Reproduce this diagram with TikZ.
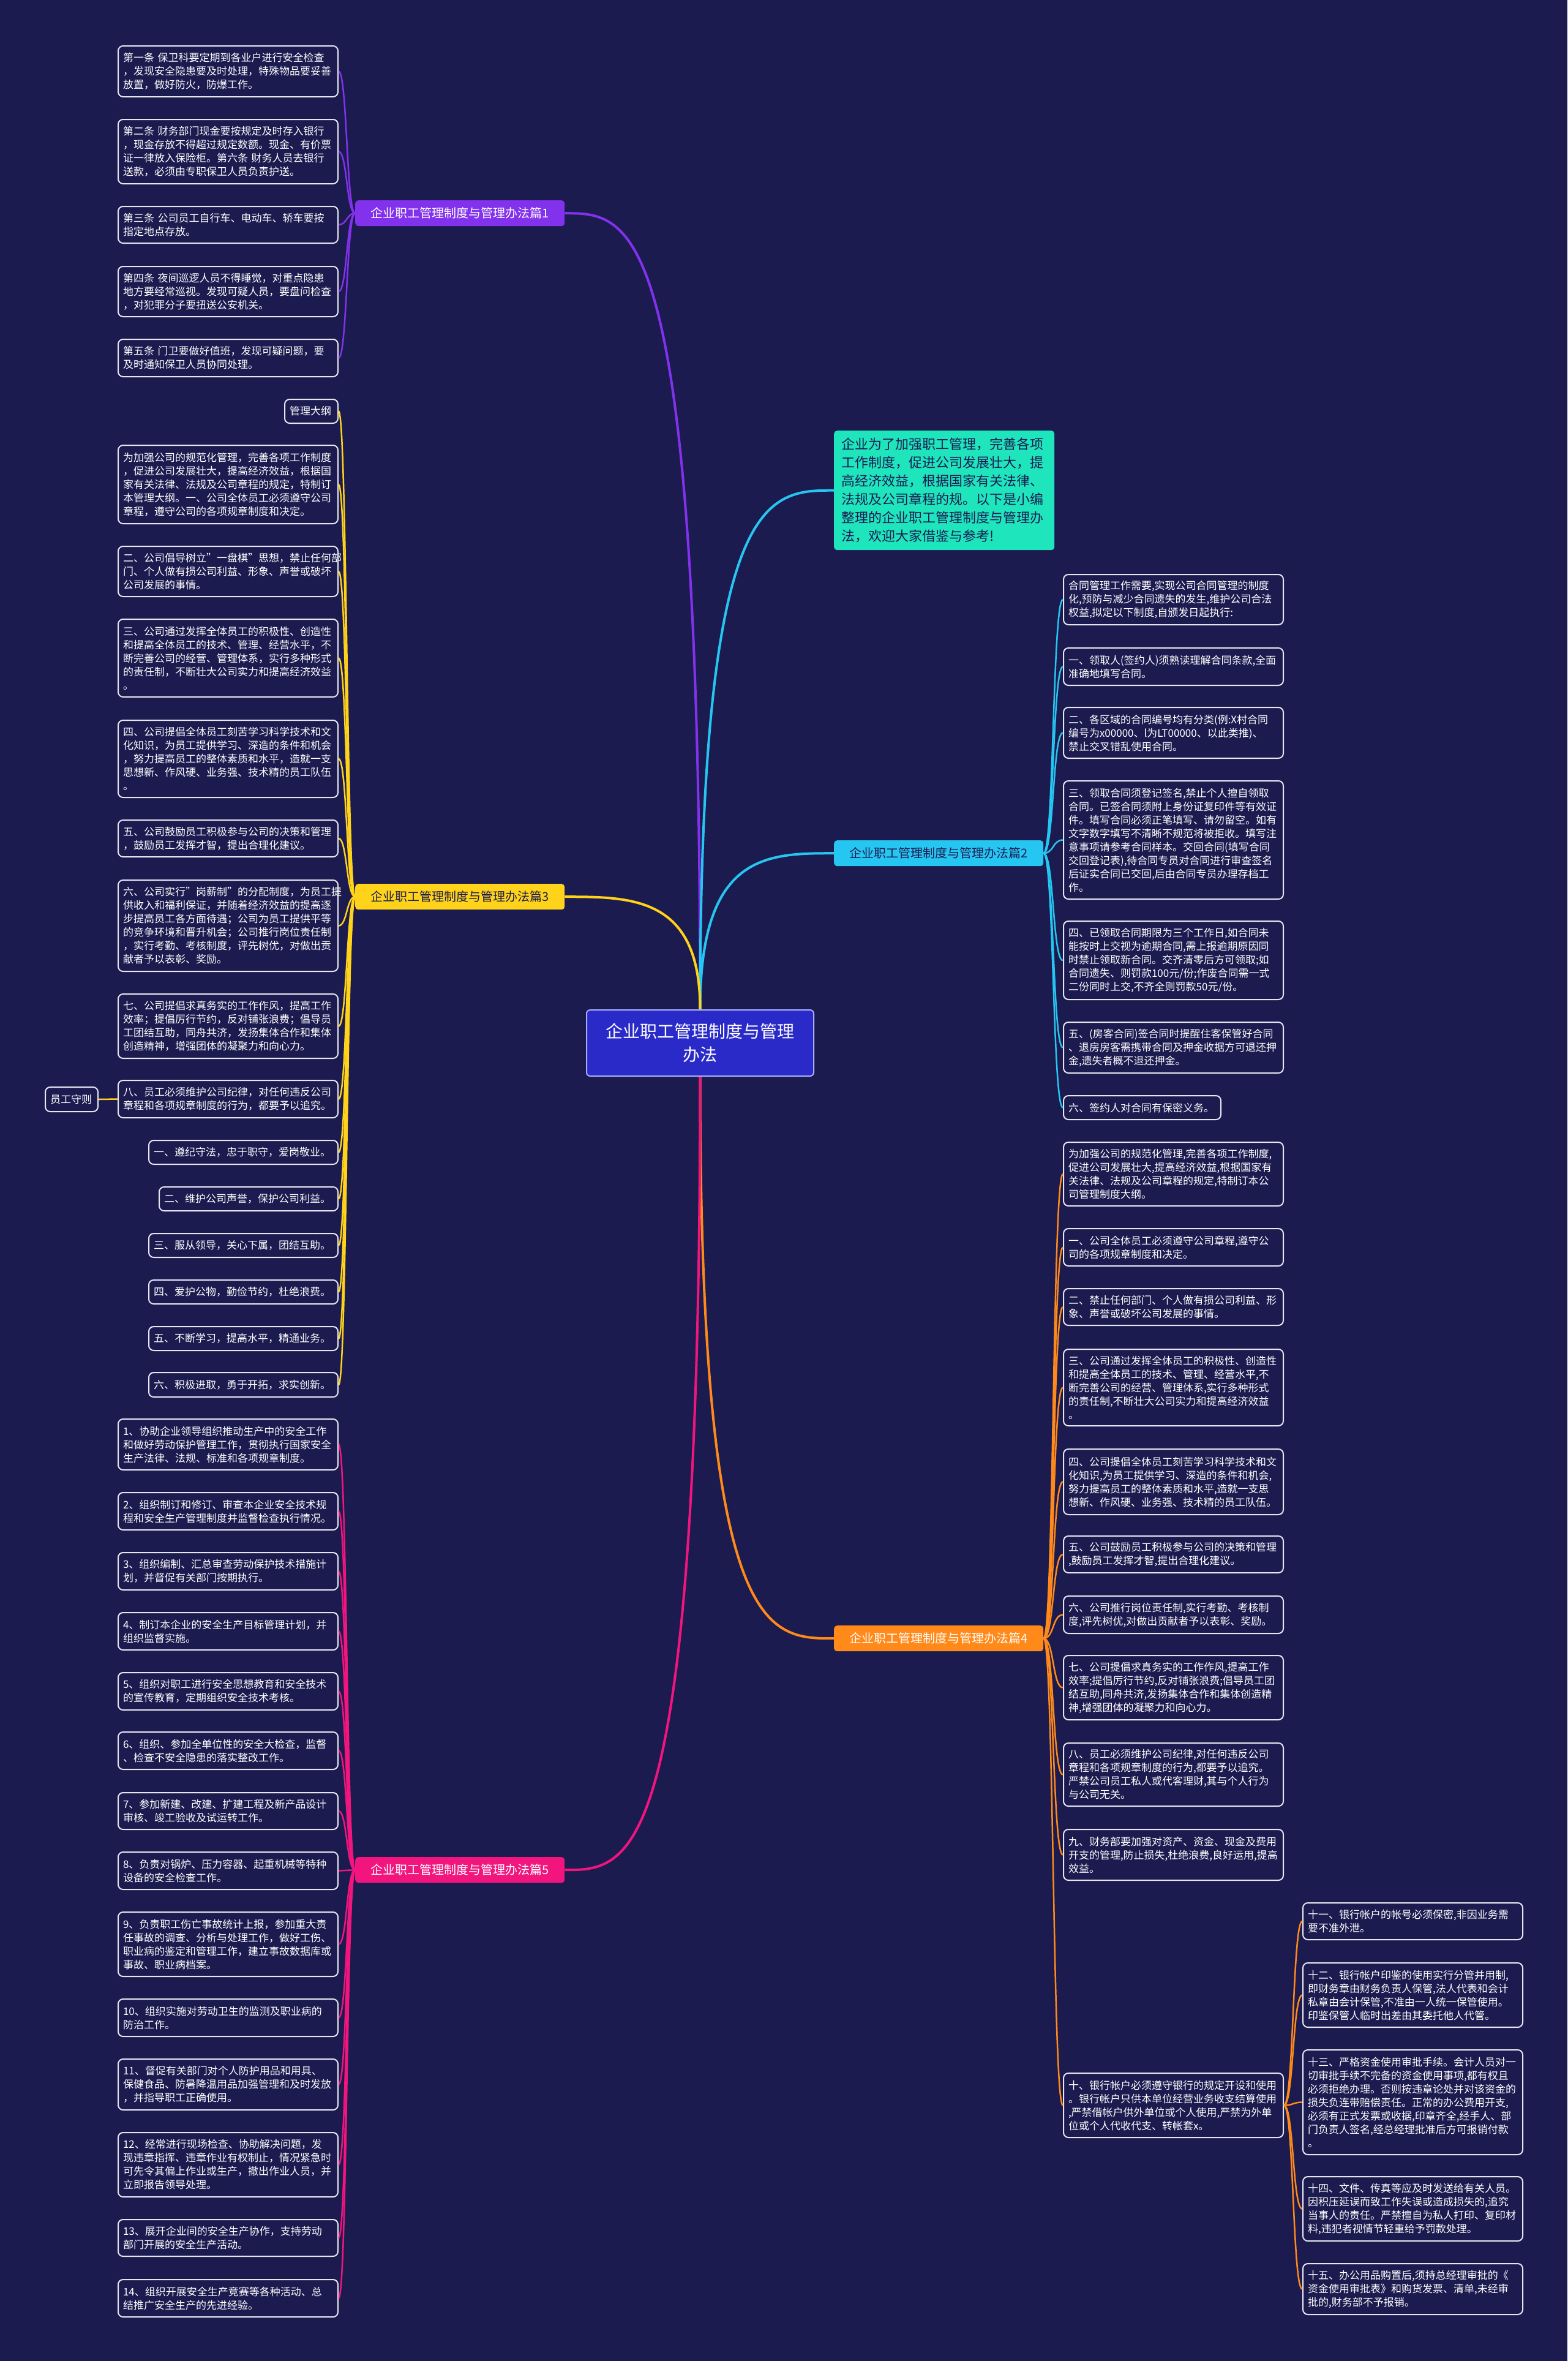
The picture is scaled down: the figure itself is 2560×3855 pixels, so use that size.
\documentclass[tikz,border=0pt]{standalone}
\usepackage{fontspec}
\setmainfont{Noto Sans CJK SC}
\usetikzlibrary{calc}
\definecolor{bg}{HTML}{1C1B50}
\definecolor{boxline}{HTML}{E6E6F0}
\definecolor{cpurple}{HTML}{8232EC}
\definecolor{ccyan}{HTML}{26C6F2}
\definecolor{cteal}{HTML}{1FE5BD}
\definecolor{cyellow}{HTML}{FFD31A}
\definecolor{corange}{HTML}{FF8A1A}
\definecolor{cpink}{HTML}{F2157E}
\definecolor{cblue}{HTML}{2A2AC8}
\definecolor{cborder}{HTML}{A9AEFF}
\tikzset{
  leaf/.style={draw=boxline, line width=2pt, rounded corners=8pt, fill=bg, text=white,
    align=left, text width=343pt, inner xsep=8pt, inner ysep=0pt, anchor=north west,
    font=\fontsize{17}{22}\selectfont},
  lbl/.style={rounded corners=5pt, minimum width=342pt, minimum height=42pt, inner sep=0pt,
    anchor=north west, font=\fontsize{20}{24}\selectfont},
  mainline/.style={line width=4pt},
  subline/.style={line width=2.5pt},
}
\newcommand\leafbox[6][]{\node[leaf,#1,minimum height={#5-#4}] (#2) at (#3,#4) {#6};}
\begin{document}
\begin{tikzpicture}[x=1pt,y=-1pt]
\fill[bg] (0,0) rectangle (2560,3855);
\useasboundingbox (0,0) rectangle (2560,3855);

% ---------- centre and first level ----------
\node[draw=cborder, line width=2pt, fill=cblue, rounded corners=6pt, text=white, align=center,
  anchor=north west, minimum width=371pt, minimum height=108pt, inner sep=0pt,
  font=\fontsize{28}{38}\selectfont] (C) at (957,1648) {企业职工管理制度与管理\\办法};

\node[fill=cteal, rounded corners=5pt, text=bg, align=left, anchor=north west,
  text width=336pt, inner xsep=12pt, inner ysep=0pt, minimum height=195pt,
  font=\fontsize{22}{30}\selectfont] (I) at (1362,703)
  {企业为了加强职工管理，完善各项\\工作制度，促进公司发展壮大，提\\高经济效益，根据国家有关法律、\\法规及公司章程的规。以下是小编\\整理的企业职工管理制度与管理办\\法，欢迎大家借鉴与参考!};

\node[lbl, fill=cpurple, text=white] (L1) at (580,327) {企业职工管理制度与管理办法篇1};
\node[lbl, fill=ccyan, text=bg] (L2) at (1362,1372) {企业职工管理制度与管理办法篇2};
\node[lbl, fill=cyellow, text=bg] (L3) at (580,1443) {企业职工管理制度与管理办法篇3};
\node[lbl, fill=corange, text=white] (L4) at (1362,2654) {企业职工管理制度与管理办法篇4};
\node[lbl, fill=cpink, text=white] (L5) at (580,3032) {企业职工管理制度与管理办法篇5};

% ---------- branch 1 ----------
\leafbox{p1}{192}{74}{157}{第一条 保卫科要定期到各业户进行安全检查\\，发现安全隐患要及时处理，特殊物品要妥善\\放置，做好防火，防爆工作。}
\leafbox{p2}{192}{194}{299}{第二条 财务部门现金要按规定及时存入银行\\，现金存放不得超过规定数额。现金、有价票\\证一律放入保险柜。第六条 财务人员去银行\\送款，必须由专职保卫人员负责护送。}
\leafbox{p3}{192}{336}{396}{第三条 公司员工自行车、电动车、轿车要按\\指定地点存放。}
\leafbox{p4}{192}{434}{516}{第四条 夜间巡逻人员不得睡觉，对重点隐患\\地方要经常巡视。发现可疑人员，要盘问检查\\，对犯罪分子要扭送公安机关。}
\leafbox{p5}{192}{553}{614}{第五条 门卫要做好值班，发现可疑问题，要\\及时通知保卫人员协同处理。}

% ---------- branch 3 ----------
\leafbox[text width=71pt]{y1}{464}{651}{690}{管理大纲}
\leafbox{y2}{192}{726}{854}{为加强公司的规范化管理，完善各项工作制度\\，促进公司发展壮大，提高经济效益，根据国\\家有关法律、法规及公司章程的规定，特制订\\本管理大纲。一、公司全体员工必须遵守公司\\章程，遵守公司的各项规章制度和决定。}
\leafbox{y3}{192}{891}{973}{二、公司倡导树立"一盘棋"思想，禁止任何部\\门、个人做有损公司利益、形象、声誉或破坏\\公司发展的事情。}
\leafbox{y4}{192}{1010}{1137}{三、公司通过发挥全体员工的积极性、创造性\\和提高全体员工的技术、管理、经营水平，不\\断完善公司的经营、管理体系，实行多种形式\\的责任制，不断壮大公司实力和提高经济效益\\。}
\leafbox{y5}{192}{1175}{1301}{四、公司提倡全体员工刻苦学习科学技术和文\\化知识，为员工提供学习、深造的条件和机会\\，努力提高员工的整体素质和水平，造就一支\\思想新、作风硬、业务强、技术精的员工队伍\\。}
\leafbox{y6}{192}{1338}{1398}{五、公司鼓励员工积极参与公司的决策和管理\\，鼓励员工发挥才智，提出合理化建议。}
\leafbox{y7}{192}{1436}{1585}{六、公司实行"岗薪制"的分配制度，为员工提\\供收入和福利保证，并随着经济效益的提高逐\\步提高员工各方面待遇；公司为员工提供平等\\的竞争环境和晋升机会；公司推行岗位责任制\\，实行考勤、考核制度，评先树优，对做出贡\\献者予以表彰、奖励。}
\leafbox{y8}{192}{1622}{1727}{七、公司提倡求真务实的工作作风，提高工作\\效率；提倡厉行节约，反对铺张浪费；倡导员\\工团结互助，同舟共济，发扬集体合作和集体\\创造精神，增强团体的凝聚力和向心力。}
\leafbox{y9}{192}{1763}{1824}{八、员工必须维护公司纪律，对任何违反公司\\章程和各项规章制度的行为，都要予以追究。}
\leafbox[text width=70pt]{ys}{73}{1774}{1814}{员工守则}
\leafbox[text width=293pt]{y10}{242}{1861}{1900}{一、遵纪守法，忠于职守，爱岗敬业。}
\leafbox[text width=276pt]{y11}{259}{1937}{1976}{二、维护公司声誉，保护公司利益。}
\leafbox[text width=293pt]{y12}{242}{2013}{2052}{三、服从领导，关心下属，团结互助。}
\leafbox[text width=293pt]{y13}{242}{2089}{2128}{四、爱护公物，勤俭节约，杜绝浪费。}
\leafbox[text width=293pt]{y14}{242}{2165}{2204}{五、不断学习，提高水平，精通业务。}
\leafbox[text width=293pt]{y15}{242}{2240}{2280}{六、积极进取，勇于开拓，求实创新。}

% ---------- branch 5 ----------
\leafbox{k1}{192}{2316}{2399}{1、协助企业领导组织推动生产中的安全工作\\和做好劳动保护管理工作，贯彻执行国家安全\\生产法律、法规、标准和各项规章制度。}
\leafbox{k2}{192}{2436}{2497}{2、组织制订和修订、审查本企业安全技术规\\程和安全生产管理制度并监督检查执行情况。}
\leafbox{k3}{192}{2534}{2595}{3、组织编制、汇总审查劳动保护技术措施计\\划，并督促有关部门按期执行。}
\leafbox{k4}{192}{2632}{2693}{4、制订本企业的安全生产目标管理计划，并\\组织监督实施。}
\leafbox{k5}{192}{2730}{2791}{5、组织对职工进行安全思想教育和安全技术\\的宣传教育，定期组织安全技术考核。}
\leafbox{k6}{192}{2827}{2888}{6、组织、参加全单位性的安全大检查，监督\\、检查不安全隐患的落实整改工作。}
\leafbox{k7}{192}{2926}{2986}{7、参加新建、改建、扩建工程及新产品设计\\审核、竣工验收及试运转工作。}
\leafbox{k8}{192}{3023}{3084}{8、负责对锅炉、压力容器、起重机械等特种\\设备的安全检查工作。}
\leafbox{k9}{192}{3121}{3226}{9、负责职工伤亡事故统计上报，参加重大责\\任事故的调查、分析与处理工作，做好工伤、\\职业病的鉴定和管理工作，建立事故数据库或\\事故、职业病档案。}
\leafbox{k10}{192}{3263}{3324}{10、组织实施对劳动卫生的监测及职业病的\\防治工作。}
\leafbox{k11}{192}{3361}{3444}{11、督促有关部门对个人防护用品和用具、\\保健食品、防暑降温用品加强管理和及时发放\\，并指导职工正确使用。}
\leafbox{k12}{192}{3481}{3586}{12、经常进行现场检查、协助解决问题，发\\现违章指挥、违章作业有权制止，情况紧急时\\可先令其偏上作业或生产，撤出作业人员，并\\立即报告领导处理。}
\leafbox{k13}{192}{3623}{3683}{13、展开企业间的安全生产协作，支持劳动\\部门开展的安全生产活动。}
\leafbox{k14}{192}{3721}{3782}{14、组织开展安全生产竞赛等各种活动、总\\结推广安全生产的先进经验。}

% ---------- branch 2 ----------
\leafbox{c0}{1736}{937}{1019}{合同管理工作需要,实现公司合同管理的制度\\化,预防与减少合同遗失的发生,维护公司合法\\权益,拟定以下制度,自颁发日起执行:}
\leafbox{c1}{1736}{1057}{1118}{一、领取人(签约人)须熟读理解合同条款,全面\\准确地填写合同。}
\leafbox{c2}{1736}{1154}{1237}{二、各区域的合同编号均有分类(例:X村合同\\编号为x00000、l为LT00000、以此类推)、\\禁止交叉错乱使用合同。}
\leafbox{c3}{1736}{1274}{1467}{三、领取合同须登记签名,禁止个人擅自领取\\合同。已签合同须附上身份证复印件等有效证\\件。填写合同必须正笔填写、请勿留空。如有\\文字数字填写不清晰不规范将被拒收。填写注\\意事项请参考合同样本。交回合同(填写合同\\交回登记表),待合同专员对合同进行审查签名\\后证实合同已交回,后由合同专员办理存档工\\作。}
\leafbox{c4}{1736}{1503}{1631}{四、已领取合同期限为三个工作日,如合同未\\能按时上交视为逾期合同,需上报逾期原因同\\时禁止领取新合同。交齐清零后方可领取;如\\合同遗失、则罚款100元/份;作废合同需一式\\二份同时上交,不齐全则罚款50元/份。}
\leafbox{c5}{1736}{1668}{1751}{五、(房客合同)签合同时提醒住客保管好合同\\、退房房客需携带合同及押金收据方可退还押\\金,遗失者概不退还押金。}
\leafbox[text width=241pt]{c6}{1736}{1788}{1827}{六、签约人对合同有保密义务。}

% ---------- branch 4 ----------
\leafbox{o0}{1736}{1864}{1968}{为加强公司的规范化管理,完善各项工作制度,\\促进公司发展壮大,提高经济效益,根据国家有\\关法律、法规及公司章程的规定,特制订本公\\司管理制度大纲。}
\leafbox{o1}{1736}{2005}{2066}{一、公司全体员工必须遵守公司章程,遵守公\\司的各项规章制度和决定。}
\leafbox{o2}{1736}{2103}{2163}{二、禁止任何部门、个人做有损公司利益、形\\象、声誉或破坏公司发展的事情。}
\leafbox{o3}{1736}{2202}{2327}{三、公司通过发挥全体员工的积极性、创造性\\和提高全体员工的技术、管理、经营水平,不\\断完善公司的经营、管理体系,实行多种形式\\的责任制,不断壮大公司实力和提高经济效益\\。}
\leafbox{o4}{1736}{2365}{2472}{四、公司提倡全体员工刻苦学习科学技术和文\\化知识,为员工提供学习、深造的条件和机会,\\努力提高员工的整体素质和水平,造就一支思\\想新、作风硬、业务强、技术精的员工队伍。}
\leafbox{o5}{1736}{2507}{2567}{五、公司鼓励员工积极参与公司的决策和管理\\,鼓励员工发挥才智,提出合理化建议。}
\leafbox{o6}{1736}{2605}{2666}{六、公司推行岗位责任制,实行考勤、考核制\\度,评先树优,对做出贡献者予以表彰、奖励。}
\leafbox{o7}{1736}{2702}{2807}{七、公司提倡求真务实的工作作风,提高工作\\效率;提倡厉行节约,反对铺张浪费;倡导员工团\\结互助,同舟共济,发扬集体合作和集体创造精\\神,增强团体的凝聚力和向心力。}
\leafbox{o8}{1736}{2845}{2948}{八、员工必须维护公司纪律,对任何违反公司\\章程和各项规章制度的行为,都要予以追究。\\严禁公司员工私人或代客理财,其与个人行为\\与公司无关。}
\leafbox{o9}{1736}{2986}{3069}{九、财务部要加强对资产、资金、现金及费用\\开支的管理,防止损失,杜绝浪费,良好运用,提高\\效益。}
\leafbox{o10}{1736}{3384}{3489}{十、银行帐户必须遵守银行的规定开设和使用\\。银行帐户只供本单位经营业务收支结算使用\\,严禁借帐户供外单位或个人使用,严禁为外单\\位或个人代收代支、转帐套x。}
\leafbox{o11}{2127}{3106}{3166}{十一、银行帐户的帐号必须保密,非因业务需\\要不准外泄。}
\leafbox{o12}{2127}{3204}{3309}{十二、银行帐户印鉴的使用实行分管并用制,\\即财务章由财务负责人保管,法人代表和会计\\私章由会计保管,不准由一人统一保管使用。\\印鉴保管人临时出差由其委托他人代管。}
\leafbox{o13}{2127}{3346}{3517}{十三、严格资金使用审批手续。会计人员对一\\切审批手续不完备的资金使用事项,都有权且\\必须拒绝办理。否则按违章论处并对该资金的\\损失负连带赔偿责任。正常的办公费用开支,\\必须有正式发票或收据,印章齐全,经手人、部\\门负责人签名,经总经理批准后方可报销付款\\。}
\leafbox{o14}{2127}{3553}{3658}{十四、文件、传真等应及时发送给有关人员。\\因积压延误而致工作失误或造成损失的,追究\\当事人的责任。严禁擅自为私人打印、复印材\\料,违犯者视情节轻重给予罚款处理。}
\leafbox{o15}{2127}{3695}{3778}{十五、办公用品购置后,须持总经理审批的《\\资金使用审批表》和购货发票、清单,未经审\\批的,财务部不予报销。}

% ---------- connectors: centre to first level ----------
\draw[mainline, cpurple] (C.north) .. controls (C.north |- L1.east) and ($(C.north |- L1.east)!0.5!(L1.east)$) .. (L1.east);
\draw[mainline, ccyan] (C.north) .. controls (C.north |- I.west) and ($(C.north |- I.west)!0.5!(I.west)$) .. (I.west);
\draw[mainline, ccyan] (C.north) .. controls (C.north |- L2.west) and ($(C.north |- L2.west)!0.5!(L2.west)$) .. (L2.west);
\draw[mainline, cyellow] (C.north) .. controls (C.north |- L3.east) and ($(C.north |- L3.east)!0.5!(L3.east)$) .. (L3.east);
\draw[mainline, corange] (C.south) .. controls (C.south |- L4.west) and ($(C.south |- L4.west)!0.5!(L4.west)$) .. (L4.west);
\draw[mainline, cpink] (C.south) .. controls (C.south |- L5.east) and ($(C.south |- L5.east)!0.5!(L5.east)$) .. (L5.east);

% ---------- connectors: labels to leaves ----------
\foreach \n in {p1,p2,p3,p4,p5}
  \draw[subline, cpurple] (L1.west) .. controls +(-14,0) and +(14,0) .. (\n.east);
\foreach \n in {y1,y2,y3,y4,y5,y6,y7,y8,y9,y10,y11,y12,y13,y14,y15}
  \draw[subline, cyellow] (L3.west) .. controls +(-14,0) and +(14,0) .. (\n.east);
\draw[subline, cyellow] (y9.west) -- (ys.east);
\foreach \n in {k1,k2,k3,k4,k5,k6,k7,k8,k9,k10,k11,k12,k13,k14}
  \draw[subline, cpink] (L5.west) .. controls +(-14,0) and +(14,0) .. (\n.east);
\foreach \n in {c0,c1,c2,c3,c4,c5,c6}
  \draw[subline, ccyan] (L2.east) .. controls +(17,0) and +(-17,0) .. (\n.west);
\foreach \n in {o0,o1,o2,o3,o4,o5,o6,o7,o8,o9,o10}
  \draw[subline, corange] (L4.east) .. controls +(17,0) and +(-17,0) .. (\n.west);
\foreach \n in {o11,o12,o13,o14,o15}
  \draw[subline, corange] (o10.east) .. controls +(16,0) and +(-16,0) .. (\n.west);
\end{tikzpicture}
\end{document}
